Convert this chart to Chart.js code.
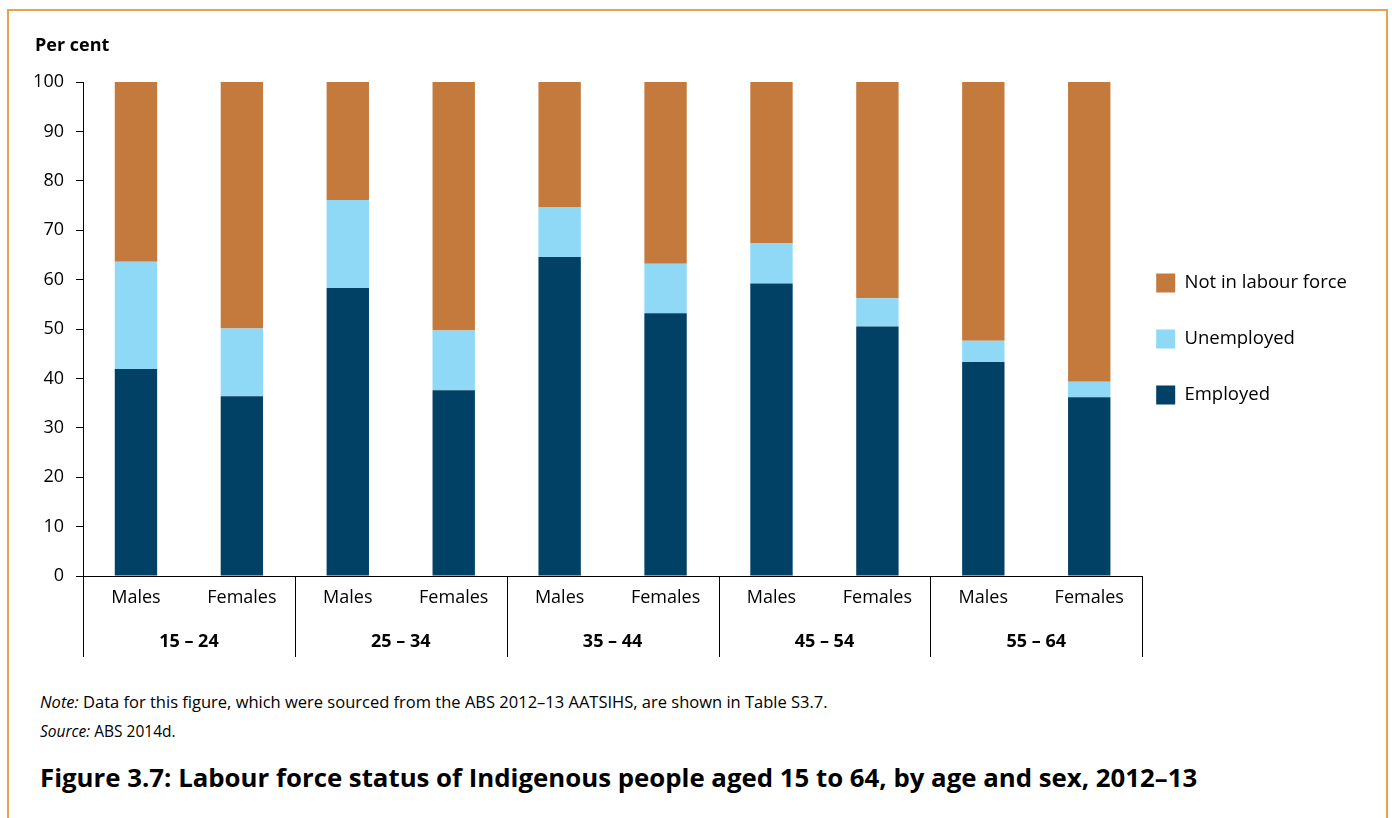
<!DOCTYPE html>
<html lang="en">
<head>
<meta charset="utf-8">
<title>Figure 3.7</title>
<script src="https://cdn.jsdelivr.net/npm/chart.js@4.4.1/dist/chart.umd.min.js"></script>
<style>
  body { margin: 0; background: #fff; font-family: "Open Sans", sans-serif; color: #000; }
  #Page { position: relative; width: 1392px; height: 818px; overflow: hidden; }
  #frame { position: absolute; left: 7px; top: 9px; width: 1381px; height: 830px; border: 2px solid #E6A24F; box-sizing: border-box; }
  #chartBox { position: absolute; left: 0; top: 0; width: 1392px; height: 680px; }
  .txt { position: absolute; white-space: nowrap; }
  #yTitle { left: 35px; top: 32px; font-weight: 700; font-size: 18px; }
  #note { left: 40px; top: 690px; font-size: 16.5px; }
  #source { left: 40px; top: 720px; font-size: 15.5px; }
  #caption { left: 40px; top: 759px; font-weight: 700; font-size: 25.8px; }
</style>
</head>
<body>
<div id="Page">
  <div id="frame"></div>
  <div id="chartBox"><canvas id="myChart" width="1392" height="680"></canvas></div>
  <div class="txt" id="yTitle">Per cent</div>
  <div class="txt" id="note"><i>Note:</i> Data for this figure, which were sourced from the ABS 2012–13 AATSIHS, are shown in Table S3.7.</div>
  <div class="txt" id="source"><i>Source:</i> ABS 2014d.</div>
  <div class="txt" id="caption">Figure 3.7: Labour force status of Indigenous people aged 15 to 64, by age and sex, 2012–13</div>
</div>

<script type="text/javascript">
    // categories
    var sexLabels = ['Males', 'Females', 'Males', 'Females', 'Males', 'Females', 'Males', 'Females', 'Males', 'Females'];
    var ageGroups = ['15 – 24', '25 – 34', '35 – 44', '45 – 54', '55 – 64'];
    // per cent values
    var employed   = [41.9, 36.4, 58.3, 37.6, 64.6, 53.2, 59.2, 50.5, 43.3, 36.2];
    var unemployed = [21.7, 13.7, 17.8, 12.1, 10.0, 10.0, 8.1, 5.7, 4.3, 3.1];
    var notInLabour = [36.4, 49.9, 23.9, 50.3, 25.4, 36.8, 32.7, 43.8, 52.4, 60.7];
    var yTicks = [0, 10, 20, 30, 40, 50, 60, 70, 80, 90, 100];

    var fontFamily = '"Open Sans", sans-serif';
    var legendPad = 37;

    // vertical separators between the age groups, under the x axis
    var groupLines = {
        id: 'groupLines',
        afterLayout: function(chart) {
            // pull the legend in closer to the plot, and down a bit
            var lg = chart.legend;
            var dx = chart.chartArea.right + 14 - legendPad - lg.left;
            lg.left += dx; lg.right += dx;
            lg.top += 10; lg.bottom += 10;
        },
        afterDraw: function(chart) {
            var x2 = chart.scales.x2;
            var x = chart.scales.x;
            var ctx = chart.ctx;
            var step = (x2.right - x2.left) / ageGroups.length;
            ctx.save();
            ctx.strokeStyle = '#000';
            ctx.lineWidth = 1;
            for (var i = 0; i <= ageGroups.length; i++) {
                var px = Math.round(x2.left + i * step) + 0.5;
                ctx.beginPath();
                ctx.moveTo(px, x.top);
                ctx.lineTo(px, x2.top + 37);
                ctx.stroke();
            }
            ctx.restore();
        }
    };

    var ctx = document.getElementById('myChart');
    var myChart = new Chart(ctx, {
        type: 'bar',
        data: {
            labels: sexLabels,
            datasets: [
                { label: 'Employed', data: employed, backgroundColor: '#004165' },
                { label: 'Unemployed', data: unemployed, backgroundColor: '#8FD9F7' },
                { label: 'Not in labour force', data: notInLabour, backgroundColor: '#C47A3D' }
            ]
        },
        options: {
            responsive: false,
            animation: false,
            layout: { padding: { top: 82, left: 0, right: 12, bottom: 0 } },
            datasets: { bar: { categoryPercentage: 1.0, barPercentage: 0.4, borderWidth: 0 } },
            plugins: {
                tooltip: { enabled: false },
                legend: {
                    position: 'right',
                    fullSize: false,
                    reverse: true,
                    labels: {
                        boxWidth: 19,
                        boxHeight: 19,
                        padding: legendPad,
                        color: '#000',
                        font: { family: fontFamily, size: 18.5 }
                    }
                }
            },
            scales: {
                x: {
                    stacked: true,
                    grid: { display: false, drawTicks: false },
                    border: { display: true, color: '#000', width: 1 },
                    ticks: { color: '#000', padding: 11, font: { family: fontFamily, size: 18 } },
                    afterFit: function(s) { s.height = 44; }
                },
                x2: {
                    type: 'category',
                    labels: ageGroups,
                    position: 'bottom',
                    offset: true,
                    grid: { display: false, drawTicks: false },
                    border: { display: false },
                    ticks: { color: '#000', padding: 11, font: { family: fontFamily, size: 18, weight: 'bold' } },
                    afterFit: function(s) { s.height = 60; }
                },
                y: {
                    stacked: true,
                    min: 0,
                    max: 100,
                    afterBuildTicks: function(s) { s.ticks = yTicks.map(function(v) { return { value: v }; }); },
                    grid: { drawOnChartArea: false, drawTicks: true, tickLength: 7, color: '#000' },
                    border: { display: true, color: '#000', width: 1 },
                    ticks: { color: '#000', padding: 12, font: { family: fontFamily, size: 18 } },
                    afterFit: function(s) { s.width = 83; }
                }
            }
        },
        plugins: [groupLines]
    });
</script>
</body>
</html>
